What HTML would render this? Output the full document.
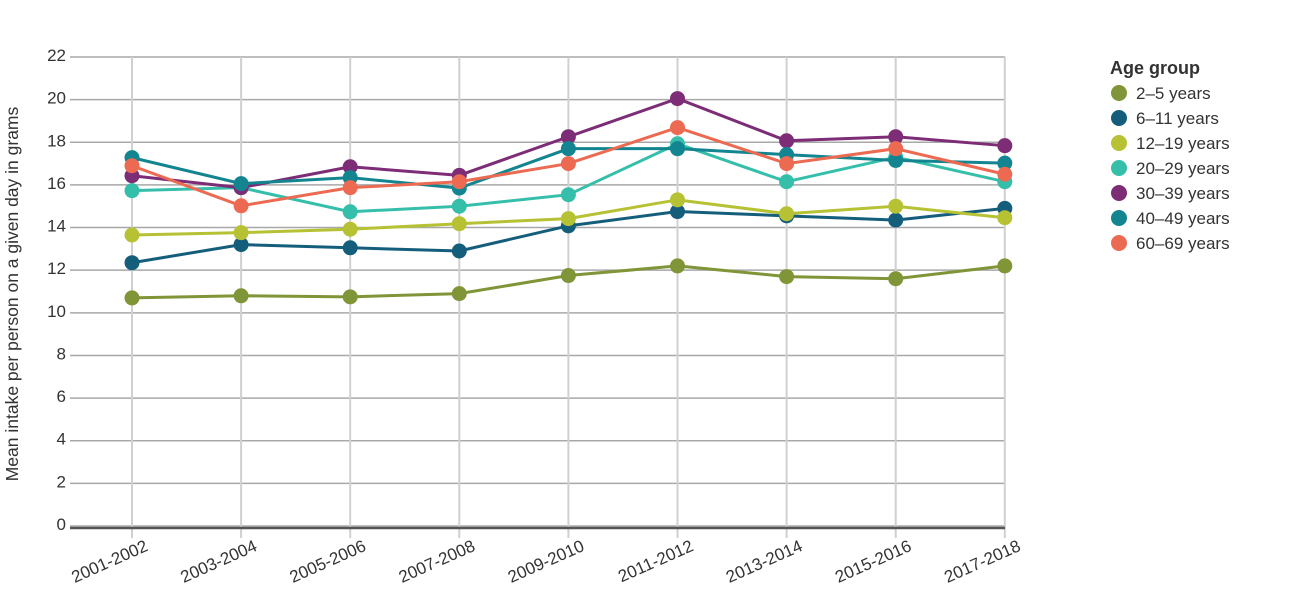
<!DOCTYPE html>
<html><head><meta charset="utf-8"><style>
body{margin:0;background:#fff;font-family:"Liberation Sans",sans-serif;}
svg text{font-family:"Liberation Sans",sans-serif;fill:#333;}
</style></head><body>
<svg id="chart" width="1304" height="603"></svg>
<script>
const categories=["2001-2002","2003-2004","2005-2006","2007-2008","2009-2010","2011-2012","2013-2014","2015-2016","2017-2018"];
const seriesNames=["2–5 years","6–11 years","12–19 years","20–29 years","30–39 years","40–49 years","60–69 years"];
const seriesColors=["#7f9537","#145e7c","#b6c233","#35bfaa","#7d2c76","#138590","#ec6a52"];
const s25=[10.7,10.8,10.75,10.9,11.75,12.2,11.7,11.6,12.2];
const s611=[12.35,13.2,13.05,12.9,14.08,14.75,14.55,14.35,14.9];
const s1219=[13.65,13.76,13.92,14.18,14.42,15.3,14.65,15.0,14.46];
const s2029=[15.73,15.87,14.74,15.0,15.54,17.93,16.15,17.3,16.15];
const s3039=[16.43,15.87,16.85,16.45,18.26,20.05,18.07,18.26,17.84];
const s4049=[17.28,16.06,16.34,15.85,17.7,17.7,17.42,17.15,17.02];
const s6069=[16.9,15.02,15.87,16.15,17.0,18.69,17.0,17.7,16.5];
const yTicks=[0,2,4,6,8,10,12,14,16,18,20,22];
const allSeries=[s25,s611,s1219,s2029,s3039,s4049,s6069];

const NS="http://www.w3.org/2000/svg";
const svg=document.getElementById("chart");
function mk(tag,attrs,parent){const e=document.createElementNS(NS,tag);for(const k in attrs)e.setAttribute(k,attrs[k]);(parent||svg).appendChild(e);return e;}
const x0=132,dx=109.1,yBase=526,yTop=57,yMax=22;
const xs=i=>x0+i*dx;
const ys=v=>yBase-(v/yMax)*(yBase-yTop);

const grid=mk("g",{});


yTicks.forEach(t=>{
  const l=mk("line",{x1:70,x2:1005,y1:ys(t),y2:ys(t),stroke:"#a8a8a8","stroke-width":1.5},grid);
  
  
  const tx=mk("text",{x:66,y:ys(t)+4,"text-anchor":"end","font-size":17});
  tx.textContent=t;
  
  
});
categories.forEach((c,i)=>{
  const l=mk("line",{x1:xs(i),x2:xs(i),y1:yTop,y2:yBase+12,stroke:"#d0d0d0","stroke-width":2},grid);
  
  
  const ax=xs(i)+17, ay=550;
  const tx=mk("text",{x:ax,y:ay,"text-anchor":"end","font-size":17,transform:`rotate(-24 ${ax} ${ay})`});
  tx.textContent=c;
  
  
});
const ax=mk("line",{x1:70,x2:1005,y1:yBase+2,y2:yBase+2,stroke:"#555","stroke-width":2.5});



const yt=mk("text",{x:18,y:294,"text-anchor":"middle","font-size":17.5,transform:"rotate(-90 18 294)"});
yt.textContent="Mean intake per person on a given day in grams";



allSeries.forEach((s,k)=>{
  const g=mk("g",{});
  
  
  const p=mk("polyline",{points:s.map((v,i)=>xs(i)+","+ys(v)).join(" "),fill:"none",stroke:seriesColors[k],"stroke-width":3},g);
  
  
  s.forEach((v,i)=>{
    const c=mk("circle",{cx:xs(i),cy:ys(v),r:7.5,fill:seriesColors[k]},g);
    
    
  });
});

const lg=mk("g",{});


const lt=mk("text",{x:1110,y:74,"font-size":18,"font-weight":"bold"},lg);
lt.textContent="Age group";


seriesNames.forEach((n,k)=>{
  const y=93+k*25;
  const c=mk("circle",{cx:1119,cy:y,r:8,fill:seriesColors[k]},lg);
  
  
  const t=mk("text",{x:1136,y:y+6,"font-size":17},lg);
  t.textContent=n;
  
  
});
</script>
</body></html>
